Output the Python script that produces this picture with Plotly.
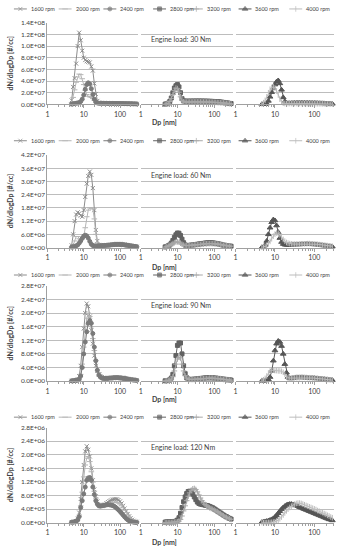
import plotly.graph_objects as go

# ---------------- data ----------------
# particle diameter grid [nm]
DP = [4.64, 5.11, 5.62, 6.19, 6.81, 7.50, 8.25, 9.09, 10.0, 11.0, 12.1,
      13.3, 14.7, 16.2, 17.8, 19.6, 21.5, 23.7, 26.1, 28.7, 31.6, 34.8,
      38.3, 42.2, 46.4, 51.1, 56.2, 61.9, 68.1, 75.0, 82.5, 90.9, 100,
      110, 121, 133, 147, 162, 178, 196, 215, 237, 261, 287]

RPM = ["1600 rpm", "2000 rpm", "2400 rpm", "2800 rpm", "3200 rpm", "3600 rpm", "4000 rpm"]
LOADS = ["Engine load: 30 Nm", "Engine load: 60 Nm", "Engine load: 90 Nm", "Engine load: 120 Nm"]
X_TICKVALS = [1, 10, 100]
X_TICKTEXT = ["1", "10", "100"]

# 30 Nm  (values in 1e6 #/cc)
n30_1600 = [7, 30, 45, 70, 100, 123, 110, 92, 80, 76, 74,
            73, 72, 65, 58, 36, 18, 6, 3, 2.6, 2.5, 2.5,
            2.4, 2.4, 2.3, 2.3, 2.2, 2.2, 2.1, 2.1, 2.0, 2.0, 1.9,
            1.9, 1.8, 1.8, 1.7, 1.6, 1.5, 1.4, 1.3, 1.2, 1.1, 1.0]
n30_2000 = [3, 12, 25, 38, 47, 52, 51, 44, 34, 24, 17,
            14, 13, 12, 10, 7, 4, 2.5, 1.5, 1.3, 1.2, 1.2,
            1.1, 1.1, 1.0, 1.0, 1.0, 0.9, 0.9, 0.9, 0.8, 0.8, 0.8,
            0.7, 0.7, 0.7, 0.6, 0.6, 0.6, 0.5, 0.5, 0.5, 0.4, 0.4]
n30_2400 = [0.5, 1, 1.5, 2, 2.5, 3, 5, 9, 16, 26, 34,
            37, 35, 27, 17, 9, 4, 2.5, 2, 1.9, 1.9, 1.8,
            1.8, 1.8, 1.7, 1.7, 1.7, 1.6, 1.6, 1.5, 1.5, 1.5, 1.4,
            1.4, 1.3, 1.3, 1.2, 1.2, 1.1, 1.1, 1.0, 0.9, 0.9, 0.8]
n30_2800 = [0.5, 1, 2, 5, 11, 20, 28, 32, 34, 30, 20,
            10, 6, 5.5, 5.5, 5.5, 5.5, 5.6, 5.6, 5.6, 5.7, 5.7,
            5.7, 5.7, 5.6, 5.6, 5.5, 5.5, 5.4, 5.3, 5.2, 5.1, 5.0,
            4.8, 4.6, 4.4, 4.1, 3.8, 3.4, 3.0, 2.6, 2.2, 1.8, 1.5]
n30_3200 = [0.3, 0.8, 2, 5, 10, 17, 24, 28, 27, 21, 13,
            7, 4.5, 4, 4, 4, 4.1, 4.2, 4.2, 4.3, 4.3, 4.3,
            4.3, 4.3, 4.2, 4.2, 4.1, 4.1, 4.0, 3.9, 3.8, 3.7, 3.6,
            3.5, 3.3, 3.1, 2.9, 2.7, 2.5, 2.2, 1.9, 1.6, 1.3, 1.0]
n30_3600 = [0.2, 0.3, 0.5, 1.5, 6, 13, 21, 28, 34, 39, 41,
            36, 25, 12, 5, 2.5, 2, 2, 2.2, 2.4, 2.6, 2.5,
            2.7, 2.5, 2.8, 2.6, 2.7, 2.5, 2.6, 2.4, 2.5, 2.3, 2.3,
            2.2, 2.1, 2.0, 1.9, 1.8, 1.7, 1.5, 1.4, 1.2, 1.1, 1.0]
n30_4000 = [1, 3, 7, 13, 20, 26, 29, 30, 28, 23, 16,
            9, 4, 2, 1.5, 1.4, 1.4, 1.4, 1.5, 1.5, 1.5, 1.5,
            1.5, 1.5, 1.5, 1.5, 1.4, 1.4, 1.4, 1.3, 1.3, 1.3, 1.2,
            1.2, 1.1, 1.1, 1.0, 1.0, 0.9, 0.8, 0.7, 0.6, 0.6, 0.5]

# 60 Nm  (values in 1e6 #/cc)
n60_1600 = [1, 6, 12, 15, 16, 15.5, 14.5, 14, 17, 23, 29,
            32.5, 34.5, 33, 27, 17, 8, 3, 1.2, 0.9, 0.8, 0.8,
            0.9, 1.0, 1.1, 1.2, 1.3, 1.4, 1.5, 1.6, 1.7, 1.7, 1.7,
            1.6, 1.5, 1.4, 1.2, 1.0, 0.9, 0.8, 0.7, 0.6, 0.5, 0.4]
n60_2000 = [0.3, 1, 3, 5, 5, 4, 3.5, 4, 5, 9, 14,
            17, 18, 18, 17.5, 13, 6, 2, 1, 0.8, 0.7, 0.7,
            0.7, 0.8, 0.8, 0.9, 0.9, 1.0, 1.0, 1.0, 1.0, 1.0, 1.0,
            0.9, 0.9, 0.8, 0.7, 0.6, 0.6, 0.5, 0.4, 0.4, 0.3, 0.3]
n60_2400 = [0.2, 0.3, 0.5, 0.8, 1.2, 2, 3, 4.2, 5.2, 5.6, 5.3,
            4.3, 2.8, 1.5, 0.9, 0.7, 0.7, 0.7, 0.8, 0.8, 0.9, 0.9,
            1.0, 1.0, 1.1, 1.1, 1.2, 1.3, 1.3, 1.4, 1.4, 1.4, 1.4,
            1.3, 1.3, 1.2, 1.1, 1.0, 0.9, 0.8, 0.7, 0.6, 0.5, 0.4]
n60_2800 = [0.3, 0.5, 0.8, 1.2, 2, 3.2, 4.6, 5.8, 6.6, 6.5, 5.5,
            3.8, 2.2, 1.2, 0.9, 0.9, 1.0, 1.1, 1.2, 1.3, 1.4, 1.5,
            1.6, 1.7, 1.8, 1.9, 2.0, 2.1, 2.1, 2.2, 2.2, 2.1, 2.0,
            1.9, 1.8, 1.6, 1.5, 1.3, 1.1, 1.0, 0.9, 0.8, 0.7, 0.6]
n60_3200 = [0.2, 0.4, 0.7, 1.0, 1.4, 1.8, 2.2, 2.5, 2.6, 2.4, 2.0,
            1.5, 1.1, 0.9, 0.9, 0.9, 1.0, 1.0, 1.1, 1.2, 1.2, 1.3,
            1.4, 1.4, 1.5, 1.6, 1.7, 1.7, 1.8, 1.8, 1.8, 1.8, 1.7,
            1.7, 1.6, 1.5, 1.4, 1.2, 1.1, 1.0, 0.9, 0.8, 0.7, 0.6]
n60_3600 = [0.1, 0.3, 1.2, 3, 6, 9, 11.5, 12.7, 12.3, 10, 7,
            4.3, 2.5, 1.6, 1.3, 1.2, 1.2, 1.2, 1.2, 1.3, 1.3, 1.4,
            1.4, 1.4, 1.5, 1.5, 1.5, 1.6, 1.6, 1.6, 1.5, 1.5, 1.4,
            1.4, 1.3, 1.2, 1.1, 1.0, 0.9, 0.8, 0.7, 0.6, 0.5, 0.4]
n60_4000 = [0.1, 0.2, 0.5, 1, 1.8, 2.8, 4, 5.2, 6.1, 6.6, 6.5,
            5.8, 4.7, 3.7, 2.9, 2.3, 2.0, 1.8, 1.7, 1.6, 1.6, 1.6,
            1.6, 1.6, 1.7, 1.7, 1.7, 1.7, 1.8, 1.8, 1.7, 1.7, 1.6,
            1.6, 1.5, 1.4, 1.3, 1.2, 1.1, 1.0, 0.9, 0.8, 0.7, 0.6]

# 90 Nm  (values in 1e6 #/cc)
n90_1600 = [0.1, 0.1, 0.2, 0.3, 0.6, 1.5, 4.5, 10, 15.5, 20, 22.8,
            22, 19, 15, 11, 7.5, 4.5, 3, 2, 1.5, 1.2, 1.0,
            0.9, 0.9, 0.9, 1.0, 1.0, 1.0, 1.1, 1.1, 1.1, 1.1, 1.1,
            1.0, 1.0, 0.9, 0.8, 0.7, 0.6, 0.5, 0.5, 0.4, 0.3, 0.3]
n90_2000 = [0.1, 0.1, 0.2, 0.2, 0.4, 0.8, 2, 5, 10, 15, 18.5,
            20, 19, 16, 12.5, 9, 6, 4, 2.5, 1.6, 1.2, 1.0,
            0.9, 0.9, 0.9, 1.0, 1.0, 1.1, 1.1, 1.2, 1.2, 1.2, 1.1,
            1.1, 1.0, 0.9, 0.8, 0.7, 0.6, 0.5, 0.4, 0.4, 0.3, 0.3]
n90_2400 = [0.1, 0.1, 0.2, 0.2, 0.3, 0.5, 1.5, 4, 8, 11.5, 14.5,
            17, 17.8, 17, 14, 10, 6, 3.2, 1.8, 1.2, 0.9, 0.8,
            0.8, 0.8, 0.8, 0.9, 0.9, 0.9, 1.0, 1.0, 1.0, 1.0, 0.9,
            0.9, 0.8, 0.8, 0.7, 0.6, 0.5, 0.4, 0.4, 0.3, 0.3, 0.2]
n90_2800 = [0.1, 0.15, 0.2, 0.4, 0.9, 2, 4.5, 7.5, 10.5, 11.2, 11.2,
            8, 4.5, 2.2, 1, 0.6, 0.5, 0.5, 0.5, 0.6, 0.6, 0.7,
            0.7, 0.8, 0.8, 0.9, 0.9, 1.0, 1.0, 1.0, 1.0, 1.0, 0.9,
            0.9, 0.8, 0.8, 0.7, 0.6, 0.6, 0.5, 0.5, 0.4, 0.4, 0.3]
n90_3200 = [0.1, 0.1, 0.2, 0.3, 0.6, 1.3, 3, 5, 6.5, 7, 6.8,
            5, 3, 1.6, 0.9, 0.6, 0.5, 0.5, 0.5, 0.5, 0.6, 0.6,
            0.6, 0.7, 0.7, 0.7, 0.8, 0.8, 0.8, 0.9, 0.9, 0.9, 0.8,
            0.8, 0.8, 0.7, 0.7, 0.6, 0.5, 0.5, 0.4, 0.4, 0.3, 0.3]
n90_3600 = [0.1, 0.1, 0.2, 0.3, 0.5, 1.2, 3, 6, 9, 11, 11.8,
            11.5, 10.3, 8, 5, 2.5, 1.2, 0.8, 0.8, 0.9, 1.0, 1.1,
            1.1, 1.1, 1.1, 1.1, 1.0, 1.0, 1.0, 1.0, 0.9, 0.9, 0.9,
            0.8, 0.8, 0.7, 0.7, 0.6, 0.6, 0.5, 0.5, 0.4, 0.4, 0.3]
n90_4000 = [0.2, 0.4, 0.8, 1.5, 2.4, 3, 3.2, 3.2, 3.1, 3.1, 3.0,
            3.0, 2.9, 2.6, 2.0, 1.3, 1.0, 0.9, 0.9, 0.9, 1.0, 1.0,
            1.0, 1.0, 1.1, 1.1, 1.1, 1.1, 1.0, 1.0, 1.0, 0.9, 0.9,
            0.8, 0.8, 0.7, 0.7, 0.6, 0.6, 0.5, 0.5, 0.4, 0.4, 0.3]

# 120 Nm  (values in 1e5 #/cc)
n120_1600 = [0.05, 0.1, 0.2, 0.5, 1.2, 3, 7, 12, 17, 21, 22.5,
             21.5, 19.5, 16, 12.5, 9.8, 7.8, 6.3, 5.3, 4.9, 4.9, 5.1,
             5.4, 5.8, 6.1, 6.4, 6.6, 6.8, 6.9, 7.0, 6.9, 6.7, 6.3,
             5.7, 5.0, 4.2, 3.4, 2.6, 1.9, 1.3, 0.9, 0.6, 0.4, 0.3]
n120_2000 = [0.05, 0.1, 0.2, 0.4, 0.9, 2, 5, 9, 13.5, 17, 19,
             19.5, 18, 15, 12, 9.3, 7.3, 5.9, 5.0, 4.6, 4.5, 4.6,
             4.8, 5.0, 5.3, 5.5, 5.7, 5.9, 6.0, 6.1, 6.0, 5.8, 5.5,
             5.0, 4.4, 3.7, 3.0, 2.3, 1.7, 1.2, 0.8, 0.5, 0.4, 0.3]
n120_2400 = [0.2, 0.25, 0.3, 0.5, 0.8, 1.8, 4.5, 6.5, 8.5, 10.5, 12.5,
             13.2, 13.3, 12.5, 10.5, 8.3, 6.5, 5.5, 5.0, 4.9, 5.0, 5.1,
             5.2, 5.3, 5.3, 5.3, 5.2, 5.1, 4.9, 4.6, 4.2, 3.8, 3.3,
             2.8, 2.3, 1.8, 1.3, 0.9, 0.6, 0.4, 0.3, 0.2, 0.15, 0.1]
n120_2800 = [0.2, 0.3, 0.3, 0.3, 0.3, 0.35, 0.4, 0.5, 0.8, 1.5, 2.8,
             4.5, 6.2, 7.6, 8.6, 9.2, 9.3, 9.0, 8.4, 7.6, 6.8, 6.1,
             5.7, 5.5, 5.4, 5.3, 5.2, 5.1, 5.0, 4.8, 4.6, 4.4, 4.1,
             3.8, 3.5, 3.2, 2.9, 2.6, 2.3, 2.0, 1.8, 1.5, 1.3, 1.1]
n120_3200 = [0.1, 0.1, 0.1, 0.1, 0.1, 0.15, 0.2, 0.25, 0.3, 0.5, 1,
             2, 3.5, 5, 6.5, 7.8, 8.8, 9.6, 10.0, 10.1, 9.8, 9.1,
             8.2, 7.3, 6.5, 5.9, 5.4, 5.0, 4.7, 4.4, 4.2, 4.0, 3.8,
             3.5, 3.3, 3.0, 2.7, 2.4, 2.1, 1.8, 1.6, 1.4, 1.2, 1.0]
n120_3600 = [0.2, 0.3, 0.4, 0.5, 0.6, 0.8, 1.0, 1.3, 1.7, 2.2, 2.8,
             3.4, 4.0, 4.5, 4.9, 5.2, 5.4, 5.5, 5.5, 5.4, 5.3, 5.1,
             4.9, 4.6, 4.4, 4.2, 4.0, 3.8, 3.6, 3.4, 3.2, 3.0, 2.8,
             2.6, 2.4, 2.2, 2.0, 1.8, 1.6, 1.4, 1.2, 1.0, 0.9, 0.7]
n120_4000 = [0.05, 0.05, 0.05, 0.05, 0.1, 0.1, 0.15, 0.2, 0.3, 0.5, 0.8,
             1.2, 1.7, 2.3, 2.9, 3.5, 4.0, 4.5, 4.9, 5.2, 5.5, 5.7,
             5.8, 5.8, 5.7, 5.5, 5.3, 5.1, 4.9, 4.7, 4.5, 4.3, 4.1,
             3.9, 3.6, 3.4, 3.2, 3.0, 2.7, 2.5, 2.2, 2.0, 1.7, 1.5]

UNITS = [1e6, 1e6, 1e6, 1e5]

Y_TICKVALS = [
    [0, 2e7, 4e7, 6e7, 8e7, 1e8, 1.2e8, 1.4e8],
    [0, 6e6, 1.2e7, 1.8e7, 2.4e7, 3e7, 3.6e7, 4.2e7],
    [0, 4e6, 8e6, 1.2e7, 1.6e7, 2e7, 2.4e7, 2.8e7],
    [0, 4e5, 8e5, 1.2e6, 1.6e6, 2e6, 2.4e6, 2.8e6],
]
Y_TICKTEXT = [
    ["0.0E+00", "2.0E+07", "4.0E+07", "6.0E+07", "8.0E+07", "1.0E+08", "1.2E+08", "1.4E+08"],
    ["0.0E+00", "6.0E+06", "1.2E+07", "1.8E+07", "2.4E+07", "3.0E+07", "3.6E+07", "4.2E+07"],
    ["0.0E+00", "4.0E+06", "8.0E+06", "1.2E+07", "1.6E+07", "2.0E+07", "2.4E+07", "2.8E+07"],
    ["0.0E+00", "4.0E+05", "8.0E+05", "1.2E+06", "1.6E+06", "2.0E+06", "2.4E+06", "2.8E+06"],
]

PANELS = [
    [n30_1600, n30_2000, n30_2400, n30_2800, n30_3200, n30_3600, n30_4000],
    [n60_1600, n60_2000, n60_2400, n60_2800, n60_3200, n60_3600, n60_4000],
    [n90_1600, n90_2000, n90_2400, n90_2800, n90_3200, n90_3600, n90_4000],
    [n120_1600, n120_2000, n120_2400, n120_2800, n120_3200, n120_3600, n120_4000],
]
# which sub-plot (column) each rpm series goes to
SERIES_COL = [0, 0, 0, 1, 1, 2, 2]

# ---------------- styling ----------------
W, H = 337, 550
FONT = "Lato, 'Liberation Sans', sans-serif"
TXT = "#404040"
GRID = "#bdbdbd"
AXLINE = "#a0a0a0"

STYLE = [
    dict(color="#8c8c8c", symbol="x-thin-open", size=4),
    dict(color="#b5b5b5", symbol="line-ew-open", size=4),
    dict(color="#7a7a7a", symbol="circle", size=4),
    dict(color="#626262", symbol="square", size=4),
    dict(color="#a8a8a8", symbol="cross-thin-open", size=4),
    dict(color="#555555", symbol="triangle-up", size=5),
    dict(color="#bcbcbc", symbol="line-ns-open", size=4),
]

COL_X = [(45.7, 137.0), (139.5, 232.0), (235.0, 334.0)]       # px
ROW_Y = [(19.0, 101.7), (153.0, 246.7), (285.5, 382.0), (429.0, 525.5)]  # px (top, bottom)
LOAD_Y = [35, 173, 305, 449]
XTITLE_Y = [119.5, 266, 400.5, 545]
LEG_Y = [5, 138.5, 274.5, 418.5]
LEG_TEXT_X = [27, 72, 117, 167, 204, 253, 304]
MINOR_TICKS = [2, 3, 4, 5, 6, 7, 8, 9, 20, 30, 40, 50, 60, 70, 80, 90, 200, 300]


def px_x(v):
    return v / W


def px_y(v):
    return 1 - v / H


fig = go.Figure()
layout = {}
annotations = []

for r in range(4):
    top, bot = ROW_Y[r]
    for c in range(3):
        k = r * 3 + c + 1
        sfx = "" if k == 1 else str(k)
        x0, x1 = COL_X[c]
        layout["xaxis" + sfx] = dict(
            type="log", range=[0, 2.5], domain=[px_x(x0), px_x(x1)],
            anchor="y" + sfx, tickvals=X_TICKVALS, ticktext=X_TICKTEXT,
            showgrid=False, showline=True, linecolor=AXLINE, linewidth=1,
            ticks="outside", ticklen=3, tickcolor=AXLINE,
            minor=dict(tickvals=MINOR_TICKS, ticks="outside", ticklen=2,
                       tickcolor=AXLINE, showgrid=False),
            tickfont=dict(family=FONT, size=7, color=TXT), zeroline=False,
            fixedrange=True,
        )
        layout["yaxis" + sfx] = dict(
            range=[0, Y_TICKVALS[r][-1]], domain=[px_y(bot), px_y(top)],
            anchor="x" + sfx, tickvals=Y_TICKVALS[r], ticktext=Y_TICKTEXT[r],
            showticklabels=(c == 0), showline=(c == 0), linecolor=AXLINE,
            showgrid=True, gridcolor=GRID, gridwidth=1, zeroline=False,
            ticks="", tickfont=dict(family=FONT, size=6.5, color=TXT),
            fixedrange=True,
        )

    for i, vals in enumerate(PANELS[r]):
        c = SERIES_COL[i]
        k = r * 3 + c + 1
        sfx = "" if k == 1 else str(k)
        st = STYLE[i]
        fig.add_trace(go.Scatter(
            x=DP, y=[v * UNITS[r] for v in vals], xaxis="x" + sfx, yaxis="y" + sfx,
            mode="lines+markers", name=RPM[i], showlegend=False, cliponaxis=False,
            line=dict(color=st["color"], width=1),
            marker=dict(symbol=st["symbol"], size=st["size"], color=st["color"],
                        line=dict(width=1, color=st["color"])),
        ))

    # annotations for the row
    annotations.append(dict(
        text=LOADS[r], x=px_x(148), y=px_y(LOAD_Y[r]), xref="paper", yref="paper",
        xanchor="left", yanchor="middle", showarrow=False,
        font=dict(family=FONT, size=7, color=TXT)))
    annotations.append(dict(
        text="<b>Dp [nm]</b>", x=px_x(163), y=px_y(XTITLE_Y[r]), xref="paper", yref="paper",
        xanchor="center", yanchor="middle", showarrow=False,
        font=dict(family=FONT, size=7, color=TXT)))
    annotations.append(dict(
        text="<b>dN/dlogDp [#/cc]</b>", x=px_x(8), y=px_y((top + bot) / 2),
        xref="paper", yref="paper", xanchor="center", yanchor="middle",
        textangle=-90, showarrow=False, font=dict(family=FONT, size=7, color=TXT)))

    # custom legend row
    for i in range(7):
        tx = LEG_TEXT_X[i]
        st = STYLE[i]
        fig.add_trace(go.Scatter(
            x=[tx - 15, tx - 8.5, tx - 2], y=[LEG_Y[r]] * 3, xaxis="x13", yaxis="y13",
            mode="lines+markers", showlegend=False, hoverinfo="skip", cliponaxis=False,
            line=dict(color=st["color"], width=1),
            marker=dict(symbol=st["symbol"], size=[0, st["size"], 0], color=st["color"],
                        line=dict(width=1, color=st["color"])),
        ))
        annotations.append(dict(
            text=RPM[i], x=px_x(tx), y=px_y(LEG_Y[r]), xref="paper", yref="paper",
            xanchor="left", yanchor="middle", showarrow=False,
            font=dict(family=FONT, size=5.5, color=TXT)))

layout["xaxis13"] = dict(domain=[0, 1], range=[0, W], visible=False, fixedrange=True,
                         anchor="y13")
layout["yaxis13"] = dict(domain=[0, 1], range=[H, 0], visible=False, fixedrange=True,
                         anchor="x13")

fig.update_layout(
    width=W, height=H, autosize=False,
    margin=dict(l=0, r=0, t=0, b=0),
    paper_bgcolor="white", plot_bgcolor="rgba(0,0,0,0)",
    font=dict(family=FONT, color=TXT),
    showlegend=False,
    annotations=annotations,
    **layout,
)

fig.write_html(
    "out.html",
    config={"displayModeBar": False},
    post_script="document.body.style.margin='0px';document.body.style.overflow='hidden';",
)
